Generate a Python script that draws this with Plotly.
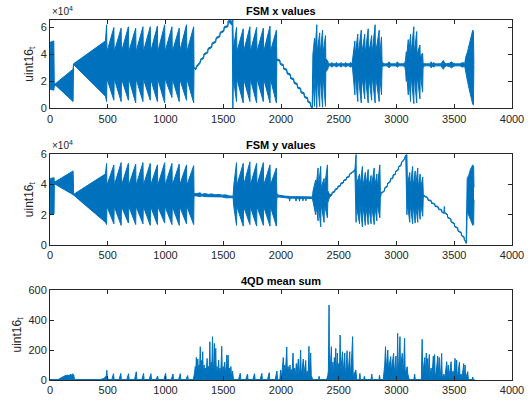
import plotly.graph_objects as go

# ---------------- data ----------------
# FSM x values: sample index, upper / lower envelope of the trace
fsmx_t = [0, 2, 33, 37, 50, 200, 204, 480, 490, 493,
          553, 556, 616, 619, 679, 682, 742, 745, 805, 808, 868, 871,
          930, 933, 993, 996, 1056, 1059, 1119, 1122, 1182, 1185, 1244, 1247,
          1262, 1270, 1300, 1303, 1330, 1333, 1365, 1368, 1400, 1403, 1435, 1438,
          1470, 1473, 1505, 1508, 1540, 1543, 1570, 1578, 1583, 1588,
          1615, 1618, 1673, 1676, 1731, 1734, 1789, 1792, 1847, 1850, 1905, 1908, 1960, 1964,
          1990, 1993, 2020, 2023, 2050, 2053, 2080, 2083, 2110, 2113, 2140, 2143,
          2170, 2173, 2200, 2203, 2230, 2233, 2255, 2258, 2270,
          2273, 2276, 2290, 2293, 2310, 2313, 2335, 2338, 2360, 2363, 2385, 2388, 2405, 2412,
          2430, 2440, 2450, 2470, 2480, 2490, 2510, 2520, 2530, 2550, 2560, 2570, 2590, 2600, 2615,
          2620, 2640, 2643, 2665, 2668, 2695, 2698, 2725, 2728, 2755, 2758, 2785, 2788,
          2815, 2818, 2850, 2853, 2870, 2875, 2890,
          2920, 2935, 2950, 2995, 3008, 3020, 3055, 3072,
          3078, 3085, 3088, 3102, 3105, 3122, 3125, 3150, 3153, 3175, 3178, 3203, 3206, 3226, 3230, 3240,
          3265, 3290, 3300, 3310, 3320, 3335, 3385, 3395, 3405, 3415, 3430, 3460, 3475, 3490, 3510, 3550, 3575, 3590,
          3600, 3615, 3630, 3645, 3660, 3666, 3670]
fsmx_hi = [29000, 49000, 50000, 18500, 18500, 29000, 33000, 50000, 62000, 42000,
           60000, 42000, 59500, 42000, 60500, 42000, 59500, 42000, 60500, 42000, 60500, 42000,
           61000, 42000, 62000, 42000, 60500, 42000, 59500, 42000, 62000, 42000, 60500, 31000,
           29500, 31500, 34500, 36500, 38000, 40500, 42000, 44500, 46000, 48500, 50000, 52500,
           54000, 56500, 58000, 60500, 61500, 65000, 65000, 62500, 65535, 44000,
           60000, 42000, 59000, 42000, 60500, 42000, 60000, 42000, 59500, 42000, 61000, 42000, 58000, 36500,
           36000, 33500, 32500, 30000, 29000, 26500, 25500, 23000, 22000, 19500, 18500, 16000,
           15000, 12500, 11500, 9000, 8000, 5500, 4500, 2000, 1000,
           30000, 40000, 52000, 40000, 62000, 41000, 56000, 40000, 58000, 40000, 54000, 37000, 35000, 33000,
           33000, 34000, 33000, 33000, 34000, 33000, 33000, 34000, 33000, 33000, 34000, 33000, 33000, 34000, 33000,
           36000, 50000, 40000, 55000, 40000, 58000, 40000, 55000, 40000, 59000, 40000, 54000, 40000,
           62000, 40000, 58000, 38000, 53000, 34500, 33000,
           33000, 34500, 33000, 33000, 34500, 33000, 33000, 33500,
           36000, 42000, 38000, 51000, 40000, 55000, 40000, 60500, 40000, 57000, 40000, 47000, 38000, 41000, 34000, 33000,
           33000, 33000, 34500, 33000, 34000, 33000, 33000, 34000, 35500, 34000, 33000, 33500, 34500, 33500, 33000, 33000, 34000, 33000,
           38000, 42000, 47000, 52000, 58000, 57000, 33000]
fsmx_lo = [29000, 14000, 13500, 16000, 17000, 5000, 32500, 9000, 5000, 22000,
           6000, 22000, 5000, 22000, 6000, 22000, 4000, 22000, 5000, 22000, 6000, 22000,
           5000, 22000, 4000, 22000, 8000, 22000, 5000, 22000, 6000, 22000, 4000, 30000,
           28500, 30500, 33500, 35500, 37000, 39500, 41000, 43500, 45000, 47500, 49000, 51500,
           53000, 55500, 57000, 59500, 60500, 64500, 62000, 61500, 0, 22000,
           5000, 22000, 4000, 22000, 5000, 22000, 4000, 22000, 5000, 22000, 4000, 22000, 4000, 35500,
           35000, 32500, 31500, 29000, 28000, 25500, 24500, 22000, 21000, 18500, 17500, 15000,
           14000, 11500, 10500, 8000, 7000, 4500, 3500, 1000, 300,
           500, 25000, 1500, 25000, 500, 24000, 1200, 25000, 800, 25000, 1500, 27000, 29000, 31500,
           31500, 30500, 31500, 31500, 30500, 31500, 31500, 30500, 31500, 31500, 30500, 31500, 31500, 30500, 31500,
           29000, 10000, 25000, 5000, 25000, 4000, 25000, 7000, 25000, 4000, 25000, 6000, 25000,
           4000, 25000, 5000, 26000, 10000, 30500, 31500,
           31500, 30000, 31500, 31500, 30500, 31500, 31500, 31000,
           28000, 20000, 26000, 10000, 25000, 5000, 25000, 3500, 25000, 4000, 25000, 7000, 26000, 12000, 30000, 31500,
           31500, 31500, 30000, 31500, 30500, 31500, 31500, 30500, 29000, 30500, 31500, 31000, 30000, 31000, 31500, 31500, 30500, 31500,
           26000, 20000, 14000, 8000, 3000, 2500, 32500]

# FSM y values: sample index, upper / lower envelope of the trace
fsmy_t = [0, 2, 35, 38, 200, 205, 480, 490, 493,
          553, 556, 616, 619, 679, 682, 742, 745, 805, 808, 868, 871,
          930, 933, 993, 996, 1056, 1059, 1119, 1122, 1182, 1185, 1244, 1247,
          1270, 1300, 1315, 1340, 1370, 1400, 1430, 1460, 1490, 1520, 1550, 1585,
          1592, 1615, 1618, 1673, 1676, 1731, 1734, 1789, 1792, 1847, 1850, 1905, 1908, 1960, 1964,
          1980, 2010, 2040, 2070, 2075, 2080, 2125, 2130, 2135, 2155, 2160, 2165,
          2185, 2190, 2195, 2210, 2215, 2220, 2272,
          2278, 2300, 2303, 2321, 2324, 2344, 2347, 2373, 2376, 2402, 2405, 2420,
          2440, 2443, 2465, 2468, 2490, 2493, 2515, 2518, 2540, 2543, 2565, 2568, 2590, 2593, 2620, 2640,
          2650, 2653, 2680, 2683, 2705, 2708, 2730, 2733, 2755, 2758, 2780, 2783, 2807, 2810,
          2830, 2833, 2856, 2860, 2868,
          2895, 2898, 2920, 2923, 2945, 2948, 2968, 2971, 2990, 2993, 3015, 3018, 3040, 3043, 3065, 3080,
          3090, 3095, 3115, 3118, 3140, 3143, 3162, 3165, 3184, 3187, 3205, 3208, 3227, 3232,
          3245, 3270, 3273, 3300, 3303, 3330, 3333, 3360, 3363, 3390, 3393, 3410, 3414, 3418,
          3440, 3443, 3470, 3473, 3500, 3503, 3530, 3533, 3560, 3563, 3585, 3588, 3600, 3603,
          3606, 3612, 3625, 3640, 3660, 3668, 3671]
fsmy_hi = [42000, 44000, 44500, 41500, 49000, 33500, 47000, 54000, 39500,
           53000, 39500, 54500, 39500, 54000, 39500, 53500, 39500, 54500, 39500, 54000, 39500,
           53000, 39500, 54500, 39500, 54000, 39500, 53500, 39500, 53000, 39500, 52500, 34000,
           34000, 34500, 33500, 34000, 33500, 33800, 33200, 33500, 33000, 33200, 32500, 32300,
           40000, 54500, 39500, 54000, 39500, 55000, 39500, 54000, 39500, 54500, 39500, 53000, 39500, 51000, 34000,
           33000, 32500, 32300, 32200, 32000, 32000, 32000, 32000, 32000, 31800, 31800, 31800,
           31800, 31800, 31800, 31800, 31800, 31800, 31800,
           36000, 43000, 38000, 51000, 38000, 52000, 38000, 44000, 38000, 53000, 36000, 33500,
           33500, 35000, 35500, 37000, 37500, 39000, 39500, 41000, 41500, 43000, 43500, 45000, 45500, 47000, 48500, 50000,
           60000, 40000, 47000, 38000, 52000, 38000, 48000, 38000, 50000, 38000, 46000, 38000, 51000, 38000,
           47000, 38000, 53000, 36000, 34500,
           36000, 38000, 39000, 41000, 42000, 44000, 44500, 46500, 47000, 49000, 50000, 52000, 53000, 55000, 56500, 59500,
           60000, 40000, 48000, 38000, 52000, 38000, 49000, 38000, 51000, 38000, 47000, 37000, 45000, 33500,
           32500, 31500, 30000, 29500, 28000, 27500, 26000, 25500, 24000, 23500, 22000, 21500, 25500, 21500,
           20500, 18500, 17500, 15500, 14500, 12500, 11500, 9500, 8500, 6500, 5500, 3500, 2500, 1500,
           42000, 44000, 46000, 50000, 53000, 52000, 38000]
fsmy_lo = [42000, 20000, 20500, 40500, 33300, 33000, 15000, 13500, 25500,
           14000, 25500, 13000, 25500, 14500, 25500, 13500, 25500, 14000, 25500, 13000, 25500,
           13500, 25500, 14500, 25500, 13500, 25500, 13000, 25500, 14000, 25500, 13500, 32500,
           32500, 32000, 32500, 32000, 32000, 31800, 31800, 31500, 31800, 31200, 31300, 31300,
           25000, 13000, 25500, 12500, 25500, 13500, 25500, 12500, 25500, 13000, 25500, 12500, 25500, 12500, 31000,
           31800, 31500, 31200, 31000, 29000, 31000, 31000, 29000, 31000, 30800, 29000, 30800,
           30800, 29200, 30800, 30800, 29200, 30800, 30800,
           28000, 20000, 27000, 16000, 27000, 12000, 27000, 15000, 27000, 18000, 28000, 31500,
           33000, 34500, 35000, 36500, 37000, 38500, 39000, 40500, 41000, 42500, 43000, 44500, 45000, 46500, 48000, 49000,
           15000, 26000, 14000, 27000, 12000, 27000, 13000, 27000, 13500, 27000, 14000, 27000, 13500, 27000,
           16000, 27000, 18000, 31000, 34000,
           35500, 37500, 38500, 40500, 41500, 43500, 44000, 46000, 46500, 48500, 49500, 51500, 52500, 54500, 56000, 59000,
           20000, 27000, 15000, 27000, 14000, 27000, 14500, 27000, 15000, 27000, 17000, 28000, 19000, 32000,
           32000, 31000, 29500, 29000, 27500, 27000, 25500, 25000, 23500, 23000, 21500, 21000, 21000, 21000,
           20000, 18000, 17000, 15000, 14000, 12000, 11000, 9000, 8000, 6000, 5000, 3000, 2000, 1000,
           1500, 22000, 19000, 17000, 13000, 13500, 30000]

# 4QD mean sum: sample index and value
qd_t = [0, 70, 90, 110, 130, 150, 165, 175, 185, 195, 205, 212, 215,
        430, 460, 480, 488, 492, 496, 505,
        535, 545, 550, 555, 598, 608, 613, 618, 665, 675, 680, 685,
        732, 742, 747, 752, 795, 805, 810, 815, 859, 869, 874, 879,
        917, 927, 932, 937, 986, 996, 1001, 1006, 1050, 1060, 1065, 1070,
        1113, 1123, 1128, 1133, 1177, 1187, 1192, 1197,
        1240, 1250, 1258, 1262, 1267, 1272, 1280, 1285, 1290, 1295, 1301, 1306, 1312, 1317,
        1322, 1327, 1335, 1340, 1348, 1352, 1360, 1365, 1372, 1378, 1384, 1389, 1395, 1400,
        1407, 1412, 1418, 1423, 1428, 1435, 1440, 1447, 1452, 1460, 1465, 1472, 1478, 1487,
        1492, 1500, 1505, 1512, 1517, 1525, 1531, 1536, 1542, 1547, 1555, 1560, 1566, 1572,
        1580, 1588, 1595,
        1632, 1642, 1647, 1652, 1695, 1705, 1710, 1715, 1756, 1766, 1771, 1776,
        1819, 1829, 1834, 1839, 1883, 1893, 1898, 1903, 1950, 1960, 1965, 1970,
        1990, 1997, 2003, 2010, 2020, 2025, 2032, 2038, 2050, 2055, 2062, 2068, 2078, 2083,
        2090, 2096, 2104, 2109, 2116, 2122, 2133, 2138, 2150, 2155, 2162, 2170, 2175, 2183,
        2193, 2198, 2205, 2214, 2219, 2228, 2235, 2242, 2247, 2257, 2262, 2268, 2275,
        2325, 2330, 2335, 2395, 2405,
        2410, 2416, 2420, 2428, 2436, 2441, 2450, 2456, 2462, 2468, 2474, 2479, 2488, 2493,
        2500, 2506, 2512, 2517, 2525, 2532, 2537, 2545, 2552, 2557, 2565, 2572, 2577, 2585,
        2595, 2600, 2610, 2620, 2625, 2635, 2648, 2655, 2662, 2678, 2683, 2688,
        2715, 2722, 2728, 2780, 2786, 2792, 2848, 2853, 2858,
        2885, 2892, 2898, 2905, 2910, 2917, 2925, 2930, 2940, 2950, 2955, 2963, 2975, 2980,
        2988, 2995, 3000, 3005, 3010, 3015, 3022, 3030, 3035, 3042, 3050, 3055, 3062, 3070,
        3075, 3082, 3092, 3098, 3105, 3110, 3150, 3157, 3163,
        3215, 3222, 3228, 3235, 3245, 3250, 3258, 3263, 3270, 3275, 3284, 3289, 3300, 3306,
        3319, 3324, 3330, 3335, 3345, 3357, 3362, 3370, 3375, 3383, 3391, 3396, 3410, 3418,
        3435, 3440, 3448, 3453, 3465, 3473, 3478, 3490, 3495, 3507, 3512, 3521, 3526, 3535,
        3545, 3550, 3560, 3567, 3582, 3587, 3594, 3599, 3617, 3622, 3655, 3660, 3666, 3675]
qd_sum = [3, 3, 12, 22, 28, 32, 30, 38, 33, 40, 35, 5, 3,
          3, 8, 20, 30, 65, 20, 3,
          3, 30, 42, 3, 3, 31, 44, 3, 3, 30, 42, 3,
          3, 38, 55, 3, 3, 31, 44, 3, 3, 30, 42, 3,
          3, 19, 27, 3, 3, 31, 44, 3, 3, 28, 40, 3,
          3, 30, 42, 3, 3, 21, 30, 3,
          3, 40, 90, 40, 150, 60, 140, 50, 100, 60, 222, 60, 130, 50,
          189, 40, 100, 30, 80, 30, 144, 40, 90, 60, 255, 50, 120, 40,
          289, 60, 100, 244, 40, 211, 40, 90, 30, 133, 40, 80, 30, 225,
          40, 90, 30, 120, 40, 90, 167, 40, 165, 30, 80, 30, 90, 20,
          60, 10, 3,
          3, 31, 44, 3, 3, 28, 40, 3, 3, 30, 42, 3,
          3, 31, 44, 3, 3, 34, 49, 3, 3, 42, 60, 3,
          3, 67, 20, 60, 150, 50, 100, 40, 220, 40, 90, 30, 100, 40,
          70, 30, 180, 40, 80, 20, 110, 30, 140, 40, 60, 200, 40, 70,
          140, 30, 80, 130, 30, 60, 20, 225, 40, 180, 30, 15, 3,
          3, 25, 3, 3, 30,
          60, 500, 60, 100, 222, 40, 120, 30, 150, 40, 211, 40, 180, 40,
          110, 50, 300, 40, 120, 189, 40, 100, 180, 30, 90, 195, 40, 80,
          189, 30, 120, 289, 30, 40, 67, 10, 3, 3, 44, 3,
          3, 25, 3, 3, 40, 3, 3, 33, 3,
          3, 40, 100, 222, 80, 120, 200, 70, 110, 156, 60, 100, 178, 50,
          90, 160, 20, 60, 311, 60, 120, 289, 70, 110, 178, 60, 100, 280,
          50, 60, 89, 40, 10, 3, 3, 40, 3,
          3, 271, 30, 90, 150, 30, 180, 30, 144, 20, 170, 20, 80, 10,
          160, 20, 170, 10, 60, 160, 20, 150, 10, 60, 178, 10, 40, 10,
          122, 20, 100, 10, 80, 122, 20, 60, 10, 144, 20, 133, 10, 60,
          120, 20, 40, 10, 110, 10, 100, 10, 56, 3, 3, 20, 3, 3]

# axis ticks and texts
x_ticks = [0, 500, 1000, 1500, 2000, 2500, 3000, 3500, 4000]
x_tick_text = ["0", "500", "1000", "1500", "2000", "2500", "3000", "3500", "4000"]
fsm_ticks = [0, 20000, 40000, 60000]
fsm_tick_text = ["0", "2", "4", "6"]
qd_ticks = [0, 200, 400, 600]
qd_tick_text = ["0", "200", "400", "600"]
titles = ["FSM x values", "FSM y values", "4QD mean sum"]
y_label = "uint16<sub>t</sub>"

# ---------------- figure ----------------
BLUE = "#0072BD"
AXC = "#262626"
FONT = "Liberation Sans, Arial, sans-serif"

fig = go.Figure()


def band(t, hi, lo, xa, ya):
    n = min(len(t), len(hi), len(lo))
    fig.add_trace(go.Scatter(x=t[:n], y=lo[:n], xaxis=xa, yaxis=ya, mode="lines",
                             line=dict(color=BLUE, width=1), hoverinfo="skip", showlegend=False))
    fig.add_trace(go.Scatter(x=t[:n], y=hi[:n], xaxis=xa, yaxis=ya, mode="lines",
                             line=dict(color=BLUE, width=1), fill="tonexty", fillcolor=BLUE,
                             hoverinfo="skip", showlegend=False))


band(fsmx_t, fsmx_hi, fsmx_lo, "x", "y")
band(fsmy_t, fsmy_hi, fsmy_lo, "x2", "y2")
n3 = min(len(qd_t), len(qd_sum))
fig.add_trace(go.Scatter(x=qd_t[:n3], y=qd_sum[:n3], xaxis="x3", yaxis="y3", mode="lines",
                         line=dict(color=BLUE, width=1), fill="tozeroy", fillcolor=BLUE,
                         hoverinfo="skip", showlegend=False))

domains = [[0.7547, 1.0], [0.375, 0.6269], [0.0, 0.25]]
yranges = [[0, 65535], [0, 60000], [0, 600]]
yticks = [(fsm_ticks, fsm_tick_text), (fsm_ticks, fsm_tick_text), (qd_ticks, qd_tick_text)]

common = dict(showline=True, linecolor=AXC, linewidth=1, mirror="ticks", ticks="inside",
              ticklen=4, tickcolor=AXC, tickwidth=1, showgrid=False, zeroline=False,
              automargin=False, tickfont=dict(family=FONT, size=11, color=AXC))

layout = dict(width=528, height=402, margin=dict(l=50, r=16, t=20, b=22),
              paper_bgcolor="white", plot_bgcolor="white", showlegend=False,
              font=dict(family=FONT, color=AXC))
annotations = []
for i in range(3):
    sx = "" if i == 0 else str(i + 1)
    layout["xaxis" + sx] = dict(common, domain=[0, 1], anchor="y" + sx, range=[0, 4000],
                                tickvals=x_ticks, ticktext=x_tick_text)
    layout["yaxis" + sx] = dict(common, domain=domains[i], anchor="x" + sx, range=yranges[i],
                                tickvals=yticks[i][0], ticktext=yticks[i][1],
                                title=dict(text=y_label, font=dict(family=FONT, size=12, color=AXC),
                                           standoff=4))
    annotations.append(dict(text="<b>" + titles[i] + "</b>", xref="paper", yref="paper",
                            x=0.5, y=domains[i][1], xanchor="center", yanchor="bottom",
                            yshift=1, showarrow=False,
                            font=dict(family=FONT, size=11, color="#000000")))
    if i < 2:
        annotations.append(dict(text="×10<sup>4</sup>", xref="paper", yref="paper",
                                x=0, y=domains[i][1], xanchor="left", yanchor="bottom",
                                yshift=1, showarrow=False,
                                font=dict(family=FONT, size=10, color=AXC)))
layout["annotations"] = annotations
fig.update_layout(**layout)

fig.write_html("out.html", config={"displayModeBar": False},
               post_script="document.body.style.margin='0px';document.body.style.overflow='hidden';")
